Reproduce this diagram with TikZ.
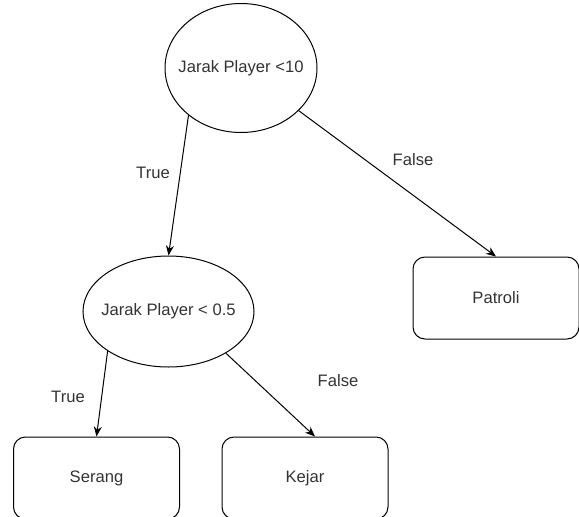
\documentclass[tikz,border=0pt]{standalone}
\usepackage{fontspec}
\setmainfont{Liberation Sans}
\usetikzlibrary{arrows.meta,shapes.geometric}

\begin{document}
\begin{tikzpicture}[x=1pt, y=-1pt, line width=1pt,
    every node/.style={font=\fontsize{16.6}{19}\selectfont, text=black!80},
    cond/.style={draw=black, ellipse, inner xsep=-30pt, inner ysep=0pt},
    leaf/.style={draw=black, rounded corners=12pt, minimum width=166pt, minimum height=82pt},
    arr/.style={-{Stealth[length=10pt,width=8pt]}}]
  \clip (0,0) rectangle (579,517);

  % Conditions
  \node[cond, minimum width=152pt, minimum height=129pt] (jarak10) at (241,68) {Jarak Player <10};
  \node[cond, minimum width=171pt, minimum height=111pt] (jarak05) at (168.5,311.5) {Jarak Player < 0.5};

  % Actions
  \node[leaf] (patroli) at (496,298) {Patroli};
  \node[leaf] (serang) at (96.5,478) {Serang};
  \node[leaf] (kejar) at (305,478) {Kejar};

  % Branches
  \draw[arr] (jarak10.222.7) -- (jarak05.north);
  \draw[arr] (jarak10) -- (patroli.north);
  \draw[arr] (jarak05.213.5) -- (serang.north);
  \draw[arr] (jarak05.-36.2) -- ([xshift=10pt]kejar.north);

  % Labels
  \node (true1) at (153,173) {True};
  \node (false1) at (413,160) {False};
  \node (true2) at (68,397) {True};
  \node (false2) at (338,381) {False};
\end{tikzpicture}
\end{document}
